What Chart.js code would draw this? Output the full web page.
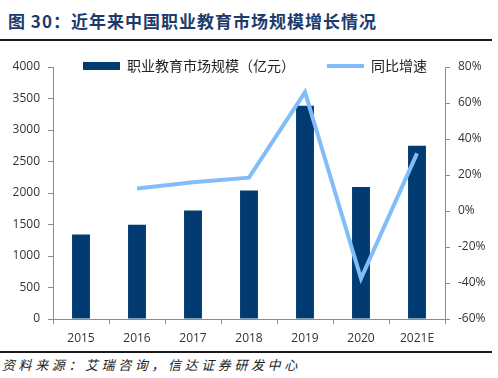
<!DOCTYPE html>
<html>
<head>
<meta charset="utf-8">
<script src="https://cdn.jsdelivr.net/npm/chart.js@4"></script>
<style>
  html, body { margin: 0; padding: 0; background: #fff; }
  body { width: 498px; height: 378px; position: relative; overflow: hidden; }
  #title {
    position: absolute; left: 8px; top: 11px; white-space: nowrap;
    font-family: "Noto Sans CJK SC", "Noto Sans", sans-serif; font-weight: bold;
    font-size: 17px; line-height: 20px; letter-spacing: 1px; color: #1c3b6c;
  }
  #rule1 { position: absolute; left: 0; top: 39px; width: 492px; height: 2px; background: #1a1a1a; }
  #rule2 { position: absolute; left: 0; top: 351px; width: 492px; height: 2px; background: #1a1a1a; }
  #source {
    position: absolute; left: 2px; top: 356px; white-space: nowrap;
    font-family: "Noto Sans CJK SC", sans-serif; font-style: italic;
    font-size: 13px; line-height: 18px; letter-spacing: 3.6px; color: #222;
  }
  #wrap { position: absolute; left: 0; top: 48px; width: 498px; height: 300px; }
</style>
</head>
<body>
<div id="title">图 30：近年来中国职业教育市场规模增长情况</div>
<div id="rule1"></div>
<div id="wrap"><canvas id="c"></canvas></div>
<div id="rule2"></div>
<div id="source">资料来源：艾瑞咨询，信达证券研发中心</div>
<script>
const categories = ["2015", "2016", "2017", "2018", "2019", "2020", "2021E"];
const marketSize = [1340, 1495, 1723, 2040, 3385, 2095, 2750];
const growthRate = [null, 12.5, 16, 18.5, 66, -37.5, 32];
const leftTicks = [0, 500, 1000, 1500, 2000, 2500, 3000, 3500, 4000];
const rightTicks = [-60, -40, -20, 0, 20, 40, 60, 80];

const barColor = "#023a72";
const lineColor = "#80bdfa";
const axisColor = "#8c8c8c";
const tickFont = { family: "'Open Sans', 'DejaVu Sans', sans-serif", size: 12 };

const legendShift = {
  id: "legendShift",
  afterLayout(chart) {
    const lg = chart.legend;
    if (!lg) return;
    const pad = lg.options.labels.padding;
    lg.isHorizontal = () => true;
    lg.maxWidth = 800;
    lg.fit();
    lg.left = 83 - pad;
    lg.right = lg.left + lg.width;
    lg.top = 18 - 7 - pad;
    lg.bottom = lg.top + lg.height;
  }
};

new Chart(document.getElementById("c"), {
  type: "bar",
  data: {
    labels: categories,
    datasets: [
      {
        type: "bar",
        label: "职业教育市场规模（亿元）",
        data: marketSize,
        backgroundColor: barColor,
        borderWidth: 0,
        categoryPercentage: 1,
        barPercentage: 0.32,
        yAxisID: "y",
        order: 2
      },
      {
        type: "line",
        label: "同比增速",
        data: growthRate,
        borderColor: lineColor,
        backgroundColor: lineColor,
        borderWidth: 4,
        pointRadius: 0,
        pointHoverRadius: 0,
        tension: 0,
        spanGaps: false,
        yAxisID: "y1",
        order: 1
      }
    ]
  },
  options: {
    responsive: true,
    maintainAspectRatio: false,
    devicePixelRatio: 1,
    animation: false,
    layout: { padding: { top: 19, left: 0, right: 0, bottom: 0 } },
    plugins: {
      tooltip: { enabled: false },
      legend: {
        position: "chartArea",
        align: "start",
        labels: {
          usePointStyle: true,
          pointStyleWidth: 37,
          boxHeight: 8,
          padding: 32,
          color: "#222",
          font: { family: "'Noto Sans CJK SC', sans-serif", size: 14 },
          sort: (a, b) => a.datasetIndex - b.datasetIndex,
          generateLabels(chart) {
            const items = Chart.defaults.plugins.legend.labels.generateLabels(chart);
            items.forEach(it => {
              if (it.datasetIndex === 0) {
                it.pointStyle = "rect";
                it.fillStyle = barColor;
                it.lineWidth = 0;
              } else {
                it.pointStyle = "line";
                it.strokeStyle = lineColor;
                it.lineWidth = 4;
              }
            });
            return items;
          }
        }
      }
    },
    scales: {
      x: {
        type: "category",
        offset: true,
        grid: { offset: true, drawOnChartArea: false, drawTicks: true, tickLength: 5, color: axisColor },
        border: { color: axisColor, width: 1 },
        ticks: { color: "#333", font: tickFont, padding: 7, maxRotation: 0 },
        afterFit(s) { s.height = 29; }
      },
      y: {
        position: "left",
        min: 0,
        max: 4000,
        afterBuildTicks(s) { s.ticks = leftTicks.map(v => ({ value: v })); },
        grid: { drawOnChartArea: false, tickLength: 5, color: axisColor },
        border: { color: axisColor, width: 1 },
        ticks: { color: "#333", font: tickFont, padding: 8, callback: v => String(v) },
        afterFit(s) { s.width = 53; }
      },
      y1: {
        position: "right",
        min: -60,
        max: 80,
        afterBuildTicks(s) { s.ticks = rightTicks.map(v => ({ value: v })); },
        grid: { drawOnChartArea: false, tickLength: 5, color: axisColor },
        border: { color: axisColor, width: 1 },
        ticks: { color: "#333", font: tickFont, padding: 8, callback: v => v + "%" },
        afterFit(s) { s.width = 53; }
      }
    }
  },
  plugins: [legendShift]
});
</script>
</body>
</html>
